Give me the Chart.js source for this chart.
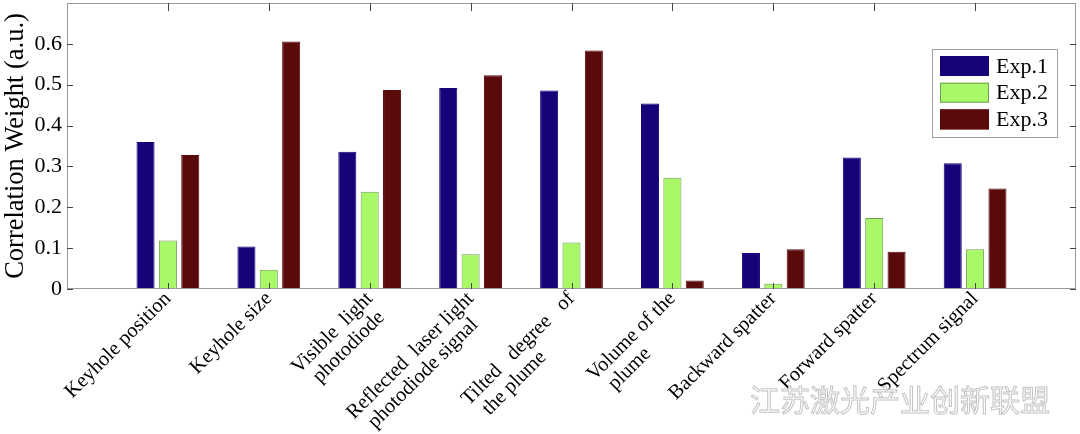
<!DOCTYPE html>
<html><head><meta charset="utf-8">
<script src="https://cdn.jsdelivr.net/npm/chart.js@4/dist/chart.umd.min.js"></script>
<style>html,body{margin:0;padding:0;background:#fff;overflow:hidden}</style>
</head><body>
<canvas id="c" width="1080" height="434"></canvas>
<script>
const categories = [
  "Keyhole position",
  "Keyhole size",
  ["Visible  light", "photodiode"],
  ["Reflected  laser light", "photodiode signal"],
  ["Tilted   degree   of", "the plume"],
  ["Volume of the", "plume"],
  "Backward spatter",
  "Forward spatter",
  "Spectrum signal"
];
const exp1 = [0.360, 0.104, 0.336, 0.492, 0.486, 0.454, 0.088, 0.322, 0.308];
const exp2 = [0.119, 0.047, 0.238, 0.085, 0.114, 0.272, 0.013, 0.174, 0.097];
const exp3 = [0.328, 0.606, 0.487, 0.523, 0.584, 0.021, 0.097, 0.091, 0.246];
const seriesNames = ["Exp.1", "Exp.2", "Exp.3"];
const yTicks = [0, 0.1, 0.2, 0.3, 0.4, 0.5, 0.6];
const watermark = "江苏激光产业创新联盟";

const SERIF = "'Liberation Serif', 'Times New Roman', serif";
const X_FONT_SIZE = 20.5;

// Multi-line labels are (roughly) left-aligned in the reference; Chart.js
// right-aligns rotated lines, so pad shorter lines with trailing spaces.
const mctx = document.createElement('canvas').getContext('2d');
mctx.font = X_FONT_SIZE + "px " + SERIF;
function leftAlign(label) {
  if (!Array.isArray(label)) return label;
  const w = Math.max(...label.map(l => mctx.measureText(l).width));
  return label.map(l => {
    let s = l;
    while (mctx.measureText(s + ' ').width <= w - 7) s += ' ';
    return s;
  });
}
const pad = arr => [null, ...arr, null];
const xLabels = ["", ...categories.map(leftAlign), ""];

const framePlugin = {
  id: 'frame',
  afterDatasetsDraw(chart) {
    const {ctx, chartArea: a, scales} = chart;
    ctx.save();
    ctx.strokeStyle = '#9a9a9a';
    ctx.lineWidth = 1;
    ctx.strokeRect(Math.round(a.left) + 0.5, Math.round(a.top) + 0.5,
                   Math.round(a.right - a.left) - 1, Math.round(a.bottom - a.top) - 1);
    ctx.strokeStyle = '#444';
    const tl = 6;
    ctx.beginPath();
    yTicks.forEach(v => {
      const y = Math.round(scales.y.getPixelForValue(v)) + 0.5;
      ctx.moveTo(a.left, y); ctx.lineTo(a.left + tl, y);
      ctx.moveTo(a.right, y); ctx.lineTo(a.right - tl, y);
    });
    for (let i = 1; i <= categories.length; i++) {
      const x = Math.round(scales.x.getPixelForValue(i)) + 0.5;
      ctx.moveTo(x, a.top); ctx.lineTo(x, a.top + tl + 2);
      ctx.moveTo(x, a.bottom); ctx.lineTo(x, a.bottom - tl);
    }
    ctx.stroke();
    ctx.restore();
  },
  afterDraw(chart) {
    const {ctx} = chart;
    ctx.save();
    // legend
    const bx = 932, by = 49, bw = 125, bh = 88;
    ctx.fillStyle = '#fff';
    ctx.fillRect(bx, by, bw, bh);
    ctx.strokeStyle = '#a0a0a0';
    ctx.lineWidth = 1;
    ctx.strokeRect(bx + 0.5, by + 0.5, bw, bh);
    ctx.font = "22px " + SERIF;
    ctx.textBaseline = 'middle';
    chart.data.datasets.forEach((ds, i) => {
      const y = by + 7 + i * 26.7;
      ctx.fillStyle = ds.backgroundColor;
      ctx.fillRect(bx + 8, y, 49, 20);
      ctx.strokeStyle = ds.borderColor;
      ctx.strokeRect(bx + 8.5, y + 0.5, 48, 19);
      ctx.fillStyle = '#000';
      ctx.fillText(ds.label, bx + 64, y + 11);
    });
    // watermark
    ctx.font = "30px 'Noto Sans CJK SC'";
    ctx.textBaseline = 'middle';
    ctx.textAlign = 'left';
    ctx.fillStyle = 'rgba(255,255,255,0.85)';
    ctx.strokeStyle = '#c4c4c4';
    ctx.lineWidth = 1;
    ctx.fillText(watermark, 750, 400);
    ctx.strokeText(watermark, 750, 400);
    ctx.restore();
  }
};

new Chart(document.getElementById('c'), {
  type: 'bar',
  data: {
    labels: xLabels,
    datasets: [
      {label: seriesNames[0], data: pad(exp1), backgroundColor: '#15037a', borderColor: '#15037a', borderWidth: 1},
      {label: seriesNames[1], data: pad(exp2), backgroundColor: '#a9f868', borderColor: '#6f9e55', borderWidth: 1},
      {label: seriesNames[2], data: pad(exp3), backgroundColor: '#5b0a0c', borderColor: '#5b0a0c', borderWidth: 1}
    ]
  },
  options: {
    responsive: false,
    animation: false,
    devicePixelRatio: 1,
    layout: {padding: {top: 3, right: 4, left: 0, bottom: 0}},
    datasets: {bar: {categoryPercentage: 0.665, barPercentage: 0.807}},
    plugins: {legend: {display: false}, tooltip: {enabled: false}},
    scales: {
      x: {
        type: 'category',
        offset: false,
        grid: {display: false, drawTicks: false},
        border: {display: false},
        ticks: {
          autoSkip: false, maxRotation: 45, minRotation: 45,
          font: {family: SERIF, size: X_FONT_SIZE, lineHeight: 1.05}, color: '#000', padding: -1
        },
        afterFit(s) { s.height = 145; s.paddingLeft = 0; s.paddingRight = 0; }
      },
      y: {
        type: 'linear', min: 0, max: 0.7,
        grid: {display: false, drawTicks: false},
        border: {display: false},
        afterBuildTicks(s) { s.ticks = yTicks.map(v => ({value: v})); },
        ticks: {
          font: {family: SERIF, size: 22}, color: '#000', padding: 5,
          callback: v => v === 0 ? '0' : Number(v).toFixed(1)
        },
        title: {display: true, text: 'Correlation Weight (a.u.)', font: {family: SERIF, size: 26.5}, color: '#000', padding: {top: 0, bottom: 0}},
        afterFit(s) { s.width = 67; s.paddingTop = 0; s.paddingBottom = 0; }
      }
    }
  },
  plugins: [framePlugin]
});
</script>
</body></html>
